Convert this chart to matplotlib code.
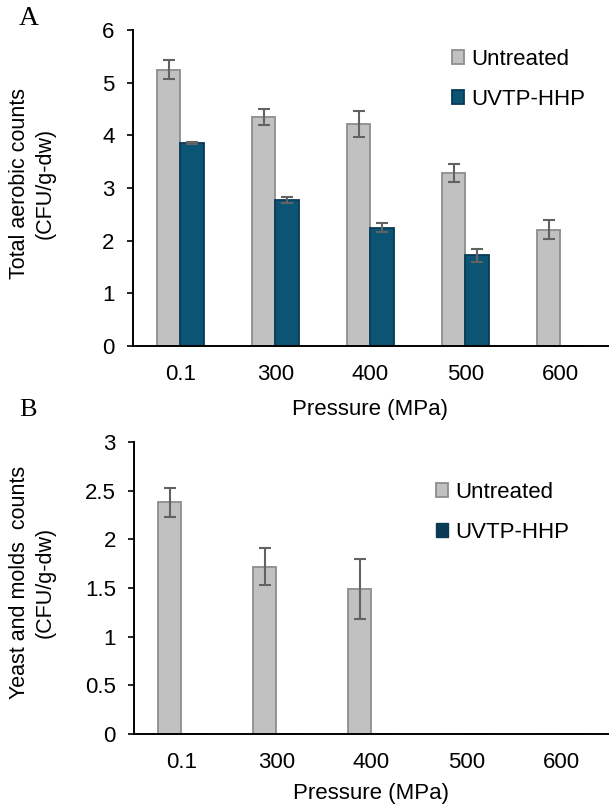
import matplotlib
matplotlib.use("Agg")
import matplotlib.pyplot as plt
from matplotlib.patches import Patch

plt.rcParams['font.family'] = ['Liberation Sans', 'DejaVu Sans']

pressures = ['0.1', '300', '400', '500', '600']

# panel A: total aerobic counts
aer_untreated = [5.25, 4.35, 4.22, 3.28, 2.21]
aer_untreated_err = [0.18, 0.15, 0.25, 0.17, 0.18]
aer_uvtp = [3.85, 2.77, 2.25, 1.72, 0.0]
aer_uvtp_err = [0.02, 0.06, 0.08, 0.12, 0.0]

# panel B: yeast and molds
ym_untreated = [2.38, 1.72, 1.49, 0.0, 0.0]
ym_untreated_err = [0.15, 0.19, 0.31, 0.0, 0.0]
ym_uvtp = [0.0, 0.0, 0.0, 0.0, 0.0]
ym_uvtp_err = [0.0, 0.0, 0.0, 0.0, 0.0]

yticks_a = [0, 1, 2, 3, 4, 5, 6]
yticks_b = [0, 0.5, 1, 1.5, 2, 2.5, 3]
yticklabels_b = ['0', '0.5', '1', '1.5', '2', '2.5', '3']

grey = '#c0c1c0'
grey_edge = '#8d8d8d'
blue = '#0b5474'
blue_edge = '#083a55'
err_col = '#626262'
fs = 16

fig = plt.figure(figsize=(6.09, 8.09), dpi=100)
axA = fig.add_axes([0.218, 0.5723, 0.78, 0.3906])
axB = fig.add_axes([0.22, 0.0927, 0.78, 0.361])

w = 0.245


def draw(ax, unt, unt_err, uv, uv_err, lpad):
    x = list(range(len(pressures)))
    xu = [i - w / 2 for i in x]
    xv = [i + w / 2 for i in x]
    ax.bar(xu, unt, w, color=grey, edgecolor=grey_edge, linewidth=1.3, zorder=2)
    ax.bar(xv, uv, w, color=blue, edgecolor=blue_edge, linewidth=1.3, zorder=2)
    for xs, ys, es in ((xu, unt, unt_err), (xv, uv, uv_err)):
        for a, b, e in zip(xs, ys, es):
            if b > 0:
                ax.errorbar(a, b, yerr=e, fmt='none', ecolor=err_col,
                            elinewidth=1.5, capsize=4.5, capthick=1.5, zorder=3)
    ax.set_xlim(-0.5, 4.5)
    ax.set_xticks(x)
    ax.set_xticklabels(pressures)
    ax.tick_params(axis='x', length=0, pad=13, labelsize=fs)
    ax.tick_params(axis='y', length=4, width=1.2, pad=9, labelsize=fs, direction='out')
    for s in ('top', 'right'):
        ax.spines[s].set_visible(False)
    for s in ('left', 'bottom'):
        ax.spines[s].set_linewidth(1.4)
        ax.spines[s].set_color('black')
    ax.set_xlabel('Pressure (MPa)', fontsize=fs, labelpad=lpad)


draw(axA, aer_untreated, aer_untreated_err, aer_uvtp, aer_uvtp_err, 10)
axA.set_ylim(0, 6)
axA.set_yticks(yticks_a)
axA.set_ylabel('Total aerobic counts\n(CFU/g-dw)', fontsize=15.5, linespacing=1.3)
axA.yaxis.set_label_coords(-0.162, 0.513)

draw(axB, ym_untreated, ym_untreated_err, ym_uvtp, ym_uvtp_err, 7)
axB.set_ylim(0, 3)
axB.set_yticks(yticks_b)
axB.set_yticklabels(yticklabels_b)
axB.set_ylabel('Yeast and molds  counts\n(CFU/g-dw)', fontsize=15.5, linespacing=1.3)
axB.yaxis.set_label_coords(-0.164, 0.52)

hA = [Patch(facecolor=grey, edgecolor=grey_edge, linewidth=1.3),
      Patch(facecolor=blue, edgecolor=blue_edge, linewidth=1.3)]
hB = [Patch(facecolor=grey, edgecolor=grey_edge, linewidth=1.3),
      Patch(facecolor='#0b3a55', edgecolor='#0b3a55', linewidth=1.0)]
labels = ['Untreated', 'UVTP-HHP']

axA.legend(hA, labels, loc='upper left', bbox_to_anchor=(0.672, 0.94),
           frameon=False, fontsize=fs, handlelength=0.55, handleheight=0.55,
           handletextpad=0.3, labelspacing=0.85, borderpad=0, borderaxespad=0)
axB.legend(hB, labels, loc='upper left', bbox_to_anchor=(0.636, 0.863),
           frameon=False, fontsize=fs, handlelength=0.55, handleheight=0.55,
           handletextpad=0.3, labelspacing=0.85, borderpad=0, borderaxespad=0)

fig.text(0.03, 0.993, 'A', fontsize=20, family=['Liberation Serif', 'DejaVu Serif'],
         va='top', ha='left')
fig.text(0.032, 0.5065, 'B', fontsize=19, family=['Liberation Serif', 'DejaVu Serif'],
         va='top', ha='left')

fig.savefig('out.png', dpi=100)
